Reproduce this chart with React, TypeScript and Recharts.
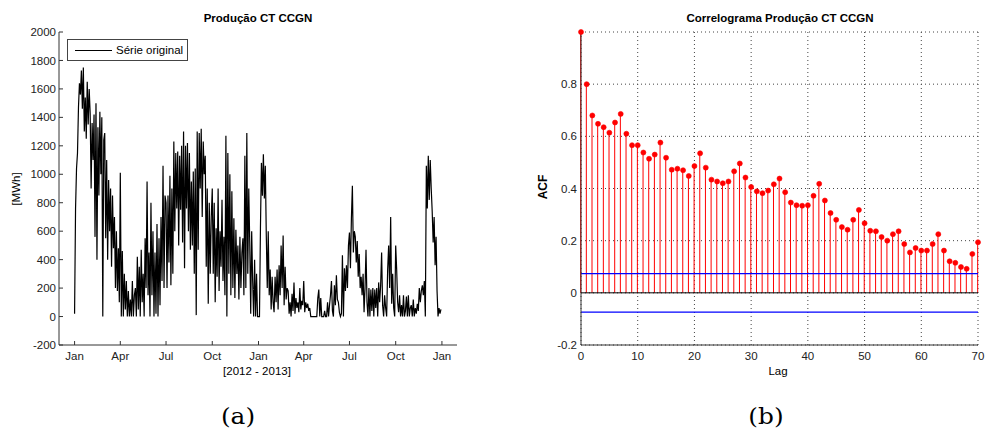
import React from 'react';
import { LineChart, Line, XAxis, YAxis, ComposedChart, Bar, CartesianGrid, ReferenceLine } from 'recharts';

// let the page use the full window width
if (typeof document !== 'undefined') document.body.style.margin = '0';

const DAY = 86400000;
const monthNames = ['Jan', 'Feb', 'Mar', 'Apr', 'May', 'Jun', 'Jul', 'Aug', 'Sep', 'Oct', 'Nov', 'Dec'];
const timeTickDates = ['2012-01-01', '2012-04-01', '2012-07-01', '2012-10-01', '2013-01-01', '2013-04-01', '2013-07-01', '2013-10-01', '2014-01-01'];
const prodTicks = [-200, 0, 200, 400, 600, 800, 1000, 1200, 1400, 1600, 1800, 2000];

// daily production, ~every second day, one row per month
const prod2012: number[][] = [
  [20, 760, 1040, 1150, 1470, 1640, 1560, 1730, 1460, 1750, 1300, 1540, 1250, 1650, 1350, 1600],
  [1430, 900, 1360, 1100, 1420, 560, 1500, 400, 1330, 850, 1440, 1000, 1400, 0, 1240],
  [1290, 550, 1100, 400, 960, 600, 900, 350, 850, 480, 700, 200, 600, 180, 480, 100],
  [1010, 0, 460, 0, 300, 50, 250, 0, 180, 0, 120, 0, 250, 0, 150],
  [200, 0, 420, 50, 350, 0, 470, 100, 300, 0, 550, 200, 950, 150, 450, 0],
  [800, 150, 600, 0, 450, 20, 650, 0, 550, 80, 700, 250, 1060, 200, 850],
  [800, 200, 850, 380, 990, 220, 900, 300, 1230, 600, 1150, 760, 1160, 500, 1130, 750],
  [1200, 520, 1300, 340, 1200, 760, 1220, 600, 1150, 470, 950, 500, 1020, 300, 1040, 10],
  [1300, 470, 1290, 900, 1320, 700, 1230, 1000, 1130, 350, 900, 90, 800, 300, 700],
  [900, 300, 800, 100, 620, 280, 900, 180, 600, 350, 820, 250, 560, 150, 1270, 0],
  [1150, 300, 1000, 150, 880, 200, 690, 130, 610, 300, 500, 120, 560, 200, 450],
  [550, 150, 1130, 200, 1290, 300, 900, 520, 20, 600, 250, 0, 400, 0, 300, 0],
];

const prod2013: number[][] = [
  [0, 0, 620, 1080, 850, 1140, 830, 1060, 570, 200, 600, 150, 330, 50, 280, 100],
  [30, 280, 100, 330, 50, 360, 150, 500, 200, 570, 80, 350, 120, 200],
  [180, 20, 100, 0, 160, 40, 240, 20, 130, 60, 100, 30, 200, 50, 110, 80],
  [250, 30, 100, 60, 90, 40, 60, 0, 0, 0, 0, 0, 0, 0, 130],
  [190, 0, 130, 0, 0, 0, 40, 0, 0, 100, 0, 80, 150, 250, 40, 0],
  [220, 80, 290, 120, 100, 30, 0, 20, 430, 0, 340, 180, 360, 200, 500],
  [590, 340, 690, 920, 450, 600, 560, 380, 530, 280, 440, 200, 280, 150, 300, 30],
  [200, 470, 100, 0, 200, 0, 190, 40, 200, 0, 190, 60, 200, 0, 240, 100],
  [215, 450, 80, 0, 150, 60, 0, 330, 500, 200, 700, 90, 300, 60, 0],
  [500, 330, 100, 30, 150, 0, 80, 0, 150, 0, 40, 140, 0, 150, 0, 60],
  [80, 0, 120, 0, 60, 20, 90, 40, 200, 100, 180, 220, 150, 250, 0],
  [1060, 760, 1130, 820, 1100, 900, 740, 520, 700, 360, 560, 180, 0, 60, 20, 50],
];

const acfValues = [
  1.0, 0.8, 0.68, 0.648, 0.635, 0.614, 0.653, 0.686, 0.61, 0.566, 0.566,
  0.538, 0.514, 0.53, 0.576, 0.518, 0.472, 0.476, 0.47, 0.448, 0.486,
  0.535, 0.48, 0.434, 0.427, 0.42, 0.427, 0.466, 0.496, 0.442, 0.406,
  0.389, 0.382, 0.392, 0.416, 0.438, 0.386, 0.346, 0.336, 0.334, 0.336,
  0.372, 0.418, 0.354, 0.306, 0.28, 0.252, 0.242, 0.28, 0.318, 0.267,
  0.238, 0.236, 0.214, 0.2, 0.225, 0.236, 0.187, 0.155, 0.172, 0.162,
  0.162, 0.187, 0.225, 0.162, 0.121, 0.115, 0.099, 0.092, 0.149, 0.194,
];
const acfBound = 0.074;
const lagTicks = [0, 10, 20, 30, 40, 50, 60, 70];
const acfTicks = [-0.2, 0, 0.2, 0.4, 0.6, 0.8];

const toUtc = (s: string) => {
  const [y, m, d] = s.split('-').map(Number);
  return Date.UTC(y, m - 1, d);
};
const timeTicks = timeTickDates.map(toUtc);

const buildSeries = (year: number, months: number[][]) =>
  months.flatMap((vals, m) => {
    const start = Date.UTC(year, m, 1);
    const days = new Date(Date.UTC(year, m + 1, 0)).getUTCDate();
    return vals.map((v, i) => ({ t: start + ((i * days) / vals.length) * DAY, v }));
  });

const prodData = [...buildSeries(2012, prod2012), ...buildSeries(2013, prod2013)];
// bounds as series so they are painted over the stems
const acfData = acfValues.map((acf, lag) => ({ lag, acf, upper: acfBound, lower: -acfBound }));

const axisColor = '#333';
const tickStyle = { fill: '#222', fontSize: 11.5 };
const font = '"Liberation Sans", Arial, sans-serif';
const captionFont = '"DejaVu Serif", "Liberation Serif", serif';

const abs = (left: number, top: number, extra: React.CSSProperties = {}): React.CSSProperties => ({
  position: 'absolute',
  left,
  top,
  whiteSpace: 'nowrap',
  ...extra,
});

const App = () => {
  const xDomain = [toUtc('2011-12-01'), toUtc('2014-01-31')];
  return (
    <div style={{ position: 'relative', width: 986, height: 433, fontFamily: font, background: '#fff', overflow: 'hidden' }}>
      <div style={{ position: 'absolute', left: 0, top: 0 }}>
        <LineChart width={480} height={400} data={prodData} margin={{ top: 32, right: 23, left: 0, bottom: 25 }}>
          <XAxis
            dataKey="t"
            type="number"
            domain={xDomain}
            ticks={timeTicks}
            tickFormatter={(t: number) => monthNames[new Date(t).getUTCMonth()]}
            height={30}
            tickSize={-4}
            tickMargin={11}
            stroke={axisColor}
            tick={tickStyle}
          />
          <XAxis xAxisId="top" orientation="top" dataKey="t" type="number" domain={xDomain} ticks={timeTicks} height={0} tickSize={-4} tick={false} stroke={axisColor} />
          <YAxis domain={[-200, 2000]} ticks={prodTicks} width={59} tickSize={-4} tickMargin={7} stroke={axisColor} tick={tickStyle} />
          <YAxis yAxisId="r" orientation="right" domain={[-200, 2000]} ticks={prodTicks} width={0} tickSize={-4} tick={false} stroke={axisColor} />
          <Line dataKey="v" type="linear" stroke="#000" strokeWidth={1.2} dot={false} isAnimationActive={false} />
        </LineChart>
      </div>

      <div style={{ position: 'absolute', left: 500, top: 0 }}>
        <ComposedChart width={486} height={400} data={acfData} margin={{ top: 32, right: 8, left: 21, bottom: 25 }}>
          <CartesianGrid stroke="#444" strokeDasharray="1 3" />
          <XAxis dataKey="lag" type="number" domain={[0, 70]} ticks={lagTicks} height={30} tickLine={false} tickSize={0} tickMargin={7} stroke={axisColor} tick={tickStyle} interval={0} />
          <XAxis xAxisId="top" orientation="top" dataKey="lag" type="number" domain={[0, 70]} ticks={lagTicks} height={0} tickLine={false} tick={false} stroke={axisColor} />
          <YAxis domain={[-0.2, 1]} ticks={acfTicks} width={60} tickLine={false} tickSize={0} tickMargin={4} stroke={axisColor} tick={tickStyle} />
          <YAxis yAxisId="r" orientation="right" domain={[-0.2, 1]} ticks={acfTicks} width={0} tickLine={false} tick={false} stroke={axisColor} />
          <ReferenceLine y={0} stroke="#000" strokeWidth={1} />
          <Bar dataKey="acf" barSize={1} fill="#ff0000" isAnimationActive={false} />
          <Line dataKey="acf" stroke="none" dot={{ r: 2.5, fill: '#ff0000', stroke: '#ff0000', strokeWidth: 0.6 }} isAnimationActive={false} />
          <Line dataKey="upper" stroke="#0000ff" strokeWidth={1.2} dot={false} isAnimationActive={false} />
          <Line dataKey="lower" stroke="#0000ff" strokeWidth={1.2} dot={false} isAnimationActive={false} />
        </ComposedChart>
      </div>

      {/* titles, axis labels, legend */}
      <div style={abs(108, 12, { width: 300, textAlign: 'center', fontWeight: 'bold', fontSize: 11.5 })}>Produção CT CCGN</div>
      <div style={abs(630, 12, { width: 300, textAlign: 'center', fontWeight: 'bold', fontSize: 11.5 })}>Correlograma Produção CT CCGN</div>
      <div style={abs(16, 189, { fontSize: 11.5, transform: 'translate(-50%, -50%) rotate(-90deg)' })}>[MWh]</div>
      <div style={abs(543, 187, { fontSize: 12, fontWeight: 'bold', transform: 'translate(-50%, -50%) rotate(-90deg)' })}>ACF</div>
      <div style={abs(257, 371, { fontSize: 11.5, transform: 'translate(-50%, -50%)' })}>[2012 - 2013]</div>
      <div style={abs(778, 371, { fontSize: 11.5, transform: 'translate(-50%, -50%)' })}>Lag</div>
      <div style={abs(238, 416, { fontSize: 23, fontFamily: captionFont, transform: 'translate(-50%, -50%) scaleX(1.08)' })}>(a)</div>
      <div style={abs(766, 416, { fontSize: 23, fontFamily: captionFont, transform: 'translate(-50%, -50%) scaleX(1.08)' })}>(b)</div>

      <div style={abs(67, 39, { width: 121, height: 22, border: '1px solid #444', background: '#fff', boxSizing: 'border-box' })}>
        <div style={abs(7, 10, { width: 37, height: 1, background: '#000' })} />
        <div style={abs(48, 3, { fontSize: 11.5, lineHeight: '14px' })}>Série original</div>
      </div>
    </div>
  );
};

export default App;
